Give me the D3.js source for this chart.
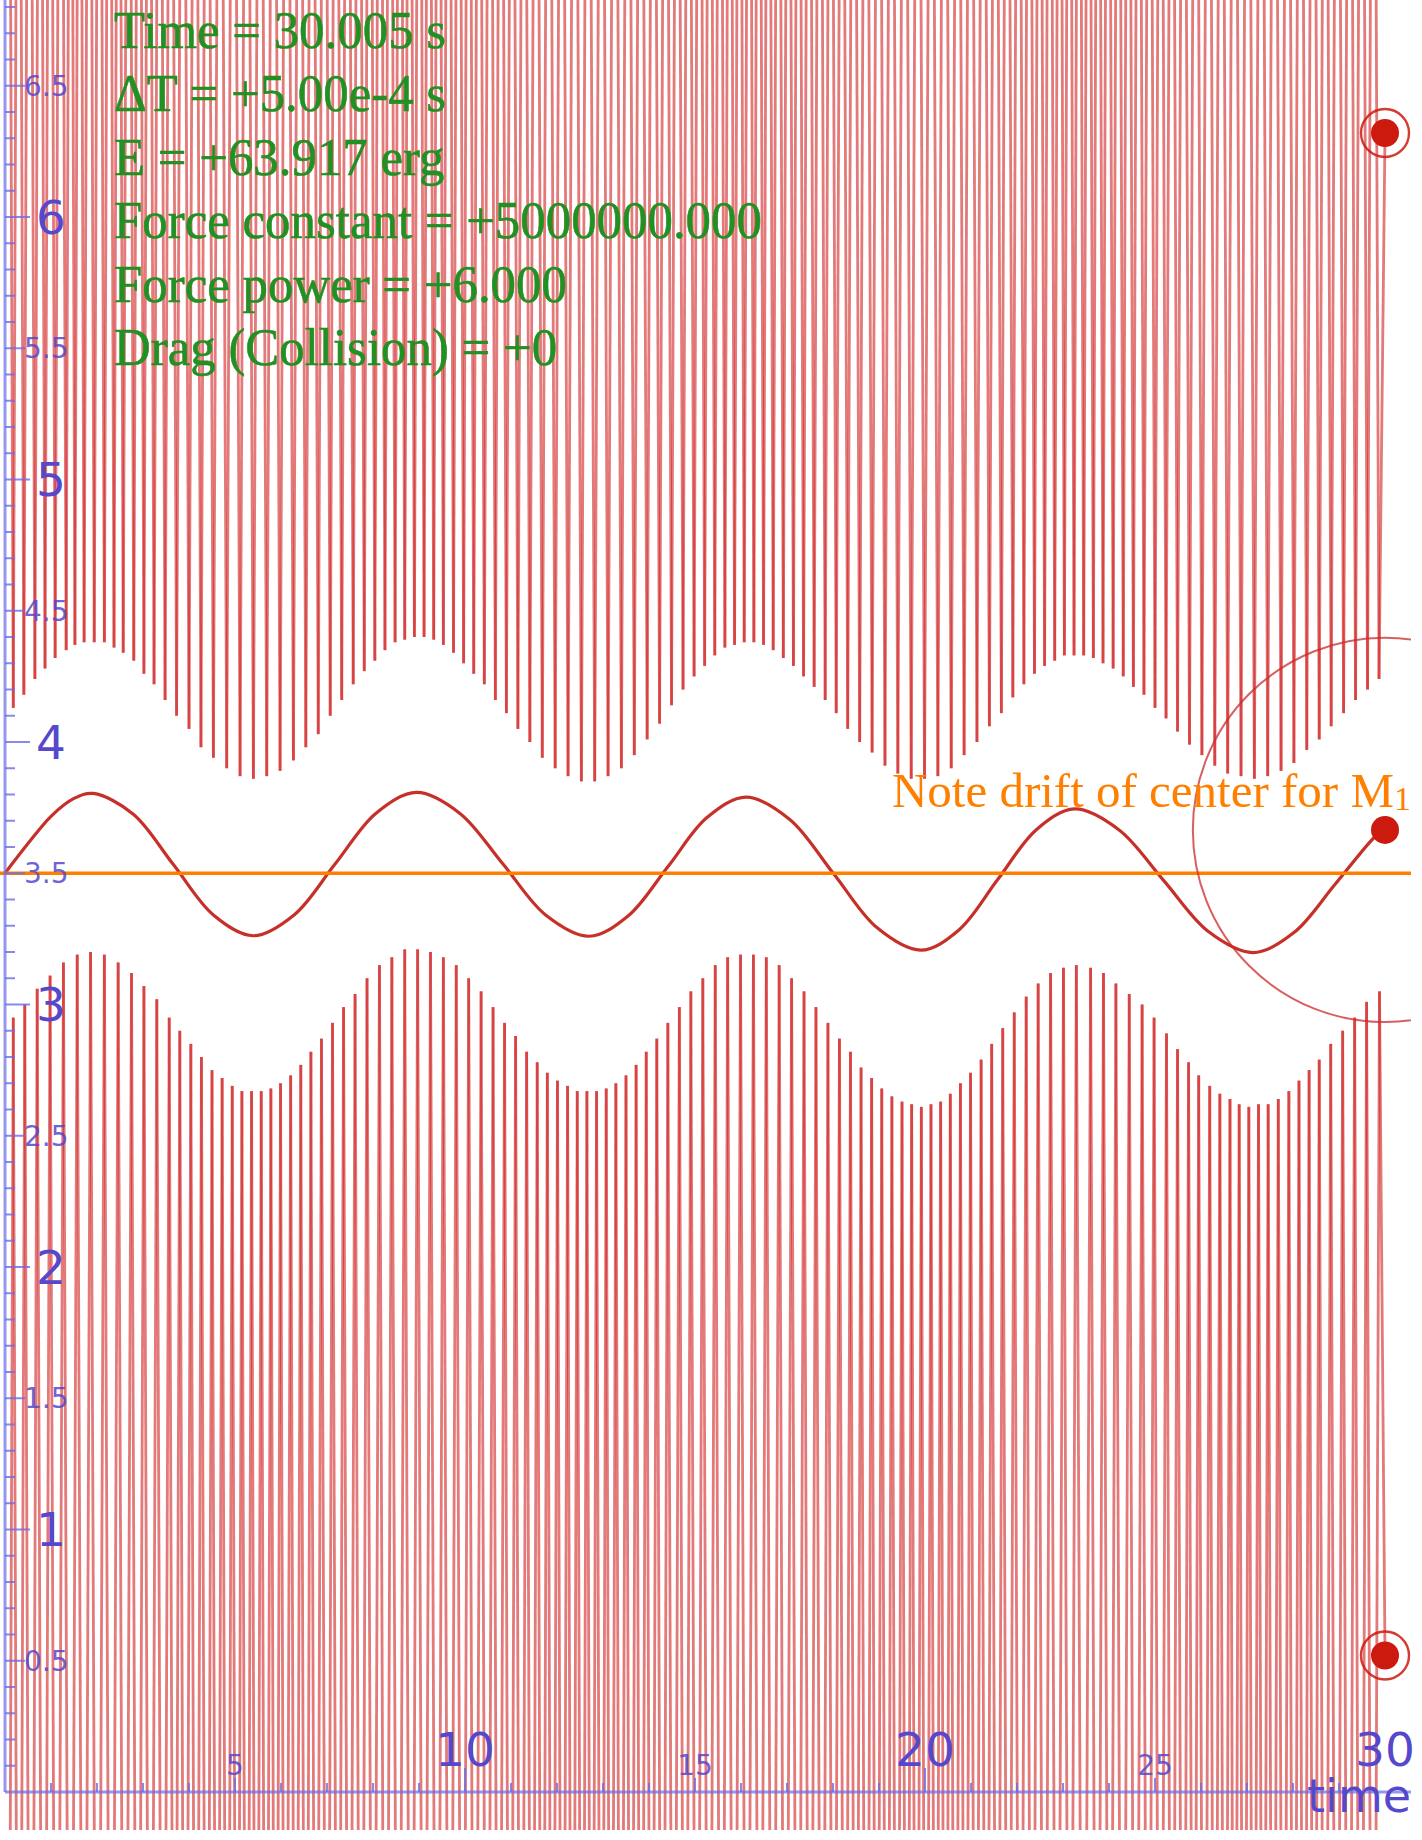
<!DOCTYPE html>
<html><head><meta charset="utf-8">
<script src="https://cdn.jsdelivr.net/npm/d3@7"></script>
<style>body{margin:0;background:#fff} svg{display:block}</style>
</head><body>
<svg id="c" width="1422" height="1840"></svg>
<script>
// ---- data ----
const m1Times  = [0,0.5,1.0,1.5,1.92,2.79,3.66,4.53,5.40,6.29,7.175,8.06,8.95,9.89,10.83,11.76,12.70,13.55,14.41,15.26,16.11,17.06,18.01,18.96,19.91,20.75,21.58,22.42,23.25,24.22,25.19,26.16,27.13,28.02,28.92,29.81,30.0];
const m1Values = [3.50,3.613,3.717,3.785,3.804,3.725,3.533,3.341,3.262,3.342,3.535,3.728,3.808,3.728,3.534,3.340,3.260,3.338,3.525,3.712,3.790,3.705,3.499,3.292,3.207,3.286,3.476,3.666,3.745,3.665,3.472,3.278,3.198,3.274,3.459,3.644,3.665];

const topTipTimes = [0.18,0.41,0.65,0.87,1.09,1.33,1.52,1.72,1.94,2.16,2.37,2.57,2.80,3.02,3.24,3.48,3.73,4.00,4.26,4.53,4.82,5.11,5.40,5.69,5.98,6.27,6.54,6.81,7.07,7.32,7.57,7.81,8.04,8.26,8.48,8.69,8.90,9.11,9.32,9.53,9.75,9.97,10.19,10.42,10.66,10.90,11.15,11.41,11.68,11.96,12.24,12.53,12.82,13.11,13.40,13.68,13.96,14.23,14.49,14.74,14.98,15.21,15.43,15.65,15.86,16.07,16.28,16.49,16.70,16.92,17.14,17.36,17.59,17.83,18.07,18.32,18.58,18.85,19.13,19.41,19.70,19.99,20.28,20.57,20.85,21.13,21.40,21.66,21.91,22.15,22.38,22.60,22.82,23.03,23.24,23.45,23.66,23.87,24.09,24.31,24.53,24.76,25.00,25.24,25.49,25.75,26.02,26.30,26.58,26.87,27.16,27.45,27.74,28.02,28.30,28.57,28.83,29.10,29.36,29.62,29.87];
const topTipValues = [4.13,4.18,4.24,4.28,4.32,4.35,4.37,4.38,4.38,4.38,4.36,4.34,4.31,4.26,4.22,4.16,4.10,4.05,3.98,3.94,3.90,3.87,3.86,3.87,3.89,3.93,3.98,4.03,4.10,4.16,4.22,4.27,4.31,4.35,4.38,4.39,4.40,4.40,4.39,4.37,4.34,4.30,4.26,4.22,4.16,4.11,4.05,4.00,3.94,3.90,3.87,3.85,3.85,3.87,3.90,3.95,4.01,4.07,4.14,4.20,4.25,4.29,4.33,4.36,4.37,4.38,4.38,4.37,4.35,4.32,4.29,4.25,4.21,4.16,4.11,4.05,4.00,3.96,3.91,3.88,3.86,3.86,3.87,3.90,3.95,4.00,4.06,4.11,4.17,4.22,4.26,4.29,4.31,4.33,4.33,4.33,4.32,4.30,4.28,4.25,4.21,4.18,4.13,4.09,4.04,3.99,3.95,3.91,3.88,3.87,3.86,3.87,3.89,3.92,3.97,4.01,4.06,4.11,4.16,4.20,4.24];

const bottomTipTimes = [0.18,0.43,0.70,0.98,1.27,1.57,1.86,2.16,2.46,2.75,3.02,3.30,3.57,3.80,4.04,4.27,4.50,4.72,4.94,5.15,5.36,5.57,5.78,5.99,6.21,6.43,6.65,6.88,7.12,7.36,7.61,7.87,8.14,8.41,8.69,8.97,9.25,9.53,9.81,10.08,10.35,10.61,10.86,11.10,11.34,11.57,11.79,12.01,12.23,12.44,12.65,12.86,13.07,13.28,13.50,13.72,13.94,14.17,14.41,14.66,14.91,15.17,15.44,15.71,15.99,16.27,16.55,16.83,17.10,17.37,17.63,17.89,18.14,18.38,18.61,18.84,19.06,19.28,19.50,19.71,19.92,20.13,20.34,20.55,20.77,20.99,21.22,21.45,21.69,21.94,22.20,22.46,22.73,23.01,23.29,23.60,23.88,24.15,24.44,24.72,24.98,25.25,25.49,25.73,25.95,26.19,26.41,26.63,26.83,27.04,27.25,27.46,27.68,27.91,28.13,28.35,28.57,28.82,29.08,29.34,29.60,29.88];
const bottomTipValues = [2.95,3.00,3.06,3.11,3.16,3.19,3.20,3.19,3.16,3.12,3.07,3.02,2.95,2.90,2.85,2.80,2.75,2.72,2.69,2.67,2.67,2.67,2.68,2.70,2.73,2.77,2.82,2.87,2.93,2.99,3.04,3.10,3.15,3.18,3.21,3.21,3.20,3.18,3.15,3.10,3.05,2.99,2.93,2.88,2.82,2.78,2.74,2.71,2.69,2.67,2.67,2.67,2.68,2.70,2.73,2.77,2.82,2.87,2.93,2.99,3.05,3.10,3.15,3.18,3.19,3.19,3.18,3.15,3.10,3.05,2.99,2.93,2.87,2.82,2.76,2.72,2.68,2.65,2.63,2.62,2.61,2.62,2.63,2.66,2.70,2.74,2.79,2.85,2.91,2.97,3.03,3.08,3.12,3.14,3.15,3.14,3.12,3.08,3.04,3.00,2.95,2.89,2.83,2.78,2.73,2.69,2.66,2.64,2.62,2.61,2.62,2.62,2.64,2.67,2.71,2.75,2.79,2.85,2.90,2.95,3.01,3.05];

const endTime = 30;
const topNow = 6.32, bottomNow = 0.52, m1Now = 3.665;
const topFar = 9.5, bottomFar = -3;
const refLevel = 3.5;
const driftRadius = 0.732;

const yLargeTicks = [1,2,3,4,5,6];
const yLargeLabels = ["1","2","3","4","5","6"];
const ySmallTicks = [0.5,1.5,2.5,3.5,4.5,5.5,6.5];
const ySmallLabels = ["0.5","1.5","2.5","3.5","4.5","5.5","6.5"];
const xLargeTicks = [10,20,30];
const xLargeLabels = ["10","20","30"];
const xSmallTicks = [5,15,25];
const xSmallLabels = ["5","15","25"];
const xTitle = "time";
const infoLines = ["Time = 30.005 s","\u0394T = +5.00e-4 s","E = +63.917 erg","Force constant = +5000000.000","Force power = +6.000","Drag (Collision) = +0"];
const noteText = "Note drift of center for M";
const noteSub = "1";

// ---- drawing ----
const svg = d3.select("#c");
const x = d3.scaleLinear().domain([0, 30]).range([5, 1385]);
const y = d3.scaleLinear().domain([0, 6.5]).range([1792, 1792 - 6.5 * 262.5]);
const plotRight = 1411, plotBottom = 1830;

svg.append("defs").append("clipPath").attr("id", "clip")
  .append("rect").attr("x", 0).attr("y", 0).attr("width", plotRight).attr("height", plotBottom);

const g = svg.append("g").attr("clip-path", "url(#clip)");

function spikePoints(times, vals, far, nowV) {
  const pts = [{t: times[0] - (times[1] - times[0]) / 2, v: far}];
  for (let i = 0; i < times.length; i++) {
    pts.push({t: times[i], v: vals[i]});
    if (i < times.length - 1) pts.push({t: (times[i] + times[i + 1]) / 2, v: far});
  }
  pts.push({t: endTime, v: nowV});
  return d3.pairs(pts);
}
const spikeColor = "#d02020";
[[topTipTimes, topTipValues, topFar, topNow], [bottomTipTimes, bottomTipValues, bottomFar, bottomNow]].forEach(([T, V, F, N]) => {
  g.append("g").selectAll("line").data(spikePoints(T, V, F, N)).join("line")
    .attr("x1", d => x(d[0].t)).attr("y1", d => y(d[0].v))
    .attr("x2", d => x(d[1].t)).attr("y2", d => y(d[1].v))
    .attr("stroke", spikeColor).attr("stroke-width", 2.8).attr("stroke-opacity", 0.6);
});

// M1 trace
const m1 = m1Times.map((t, i) => ({t, v: m1Values[i]}));
g.append("path").datum(m1)
  .attr("d", d3.line().x(d => x(d.t)).y(d => y(d.v)).curve(d3.curveCatmullRom.alpha(0.5)))
  .attr("fill", "none").attr("stroke", "#c01a12").attr("stroke-width", 3.2).attr("stroke-opacity", 0.9);

// reference line
g.append("line").attr("x1", 0).attr("x2", plotRight).attr("y1", y(refLevel)).attr("y2", y(refLevel))
  .attr("stroke", "#ff7f00").attr("stroke-width", 3.5);

// drift circle
g.append("circle").attr("cx", x(endTime)).attr("cy", y(m1Now))
  .attr("r", y(m1Now - driftRadius) - y(m1Now))
  .attr("fill", "none").attr("stroke", "#cc2a2a").attr("stroke-width", 2).attr("stroke-opacity", 0.75);

// current positions
const dotColor = "#cc1a0e";
[topNow, bottomNow].forEach(v => {
  g.append("circle").attr("cx", x(endTime)).attr("cy", y(v)).attr("r", 24)
    .attr("fill", "none").attr("stroke", dotColor).attr("stroke-width", 2.4).attr("stroke-opacity", 0.85);
});
[topNow, bottomNow, m1Now].forEach(v => {
  g.append("circle").attr("cx", x(endTime)).attr("cy", y(v)).attr("r", 14).attr("fill", dotColor);
});

// ---- axes ----
const axColor = "#6b6be6", lblColor = "#5548cc";
const font = "DejaVu Sans, Verdana, sans-serif";
const ax = svg.append("g");
// y axis
ax.append("line").attr("x1", x(0)).attr("x2", x(0)).attr("y1", 0).attr("y2", y(0))
  .attr("stroke", axColor).attr("stroke-width", 3).attr("stroke-opacity", 0.7);
const yMinor = d3.range(1, 69).map(i => i / 10);
ax.selectAll(".ym").data(yMinor).join("line")
  .attr("x1", x(0)).attr("y1", d => y(d)).attr("y2", d => y(d))
  .attr("x2", d => {
    const r = Math.round(d * 10);
    return r % 10 === 0 ? x(0) + 25 : (r % 5 === 0 ? x(0) + 20 : x(0) + 10);
  })
  .attr("stroke", axColor).attr("stroke-width", 2).attr("stroke-opacity", 0.8);
ax.selectAll(".yl").data(yLargeTicks).join("text")
  .attr("x", 36).attr("y", d => y(d)).attr("dy", "0.36em")
  .attr("font-family", font).attr("font-size", 47)
  .attr("fill", lblColor).text((d, i) => yLargeLabels[i]);
ax.selectAll(".ys").data(ySmallTicks).join("text")
  .attr("x", 24).attr("y", d => y(d)).attr("dy", "0.36em")
  .attr("font-family", font).attr("font-size", 28)
  .attr("fill", lblColor).attr("fill-opacity", 0.85).text((d, i) => ySmallLabels[i]);

// x axis
ax.append("line").attr("x1", x(0)).attr("x2", plotRight).attr("y1", y(0)).attr("y2", y(0))
  .attr("stroke", axColor).attr("stroke-width", 3).attr("stroke-opacity", 0.7);
const xMinor = d3.range(1, 30);
ax.selectAll(".xm").data(xMinor).join("line")
  .attr("x1", d => x(d)).attr("x2", d => x(d)).attr("y1", y(0))
  .attr("y2", d => d % 10 === 0 ? y(0) - 24 : (d % 5 === 0 ? y(0) - 14 : y(0) - 9))
  .attr("stroke", axColor).attr("stroke-width", 2).attr("stroke-opacity", 0.8);
ax.selectAll(".xl").data(xLargeTicks).join("text")
  .attr("x", d => x(d)).attr("y", y(0) - 26).attr("text-anchor", "middle")
  .attr("font-family", font).attr("font-size", 47)
  .attr("fill", lblColor).text((d, i) => xLargeLabels[i]);
ax.selectAll(".xs").data(xSmallTicks).join("text")
  .attr("x", d => x(d)).attr("y", y(0) - 17).attr("text-anchor", "middle")
  .attr("font-family", font).attr("font-size", 28)
  .attr("fill", lblColor).attr("fill-opacity", 0.85).text((d, i) => xSmallLabels[i]);
ax.append("text").attr("x", plotRight).attr("y", y(0) + 20).attr("text-anchor", "end")
  .attr("font-family", font).attr("font-size", 46)
  .attr("fill", lblColor).text(xTitle);

// ---- annotations ----
const info = svg.append("g").attr("transform", "translate(114,0) scale(0.96,1)");
info.selectAll("text").data(infoLines).join("text")
  .attr("x", 0).attr("y", (d, i) => 48 + i * 63.4)
  .attr("font-family", "Liberation Serif, Times New Roman, serif").attr("font-size", 53)
  .attr("fill", "#229022").attr("stroke", "#229022").attr("stroke-width", 0.6).text(d => d);

const note = svg.append("text").attr("x", plotRight).attr("y", 807).attr("text-anchor", "end")
  .attr("font-family", "Liberation Serif, Times New Roman, serif").attr("font-size", 49)
  .attr("fill", "#ff7f00");
note.append("tspan").text(noteText);
note.append("tspan").attr("font-size", 34).attr("dy", 3).text(noteSub);
</script>
</body></html>
